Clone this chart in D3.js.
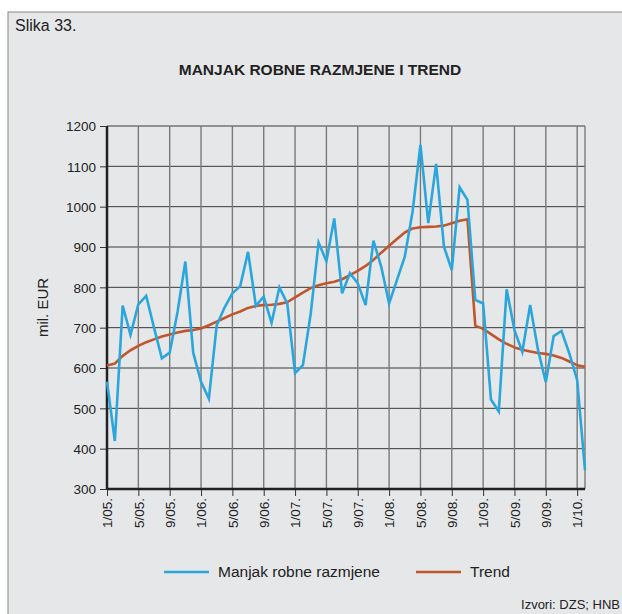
<!DOCTYPE html>
<meta charset="utf-8">
<style>
body { margin: 0; background: #fff; }
svg { display: block; font-family: "Liberation Sans", Arial, sans-serif; }
.grid line { stroke: #3a3a3a; stroke-width: 1; }
.vgrid line { stroke: #7a7a7a; stroke-width: 1.4; }
.axis text { fill: #222; font-size: 13.5px; font-family: "Liberation Sans", Arial, sans-serif; }
.axis path { display: none; }
.axis line { stroke: #333; }
</style>
<svg width="622" height="614"></svg>
<script src="https://d3js.org/d3.v7.min.js"></script>
<script>

// monthly, 1/05. to 2/10.
var deficit = [566, 419, 755, 682, 758, 779, 700, 624, 638, 739,
               864, 638, 566, 524, 706, 750, 785, 803, 888, 754,
               777, 712, 800, 760, 587, 607, 735, 911, 865, 971,
               785, 835, 810, 756, 916, 851, 760, 818, 876, 988,
               1153, 959, 1106, 901, 843, 1048, 1017, 769, 760, 522,
               492, 795, 694, 640, 756, 645, 565, 679, 692, 636,
               570, 347];

var trend = [606, 611, 630, 644, 655, 664, 671, 678, 683, 688,
             692, 694, 698, 706, 715, 724, 733, 740, 749, 754,
             756, 757, 759, 763, 775, 787, 798, 805, 810, 814,
             820, 830, 841, 853, 868, 886, 903, 920, 936, 946,
             949, 950, 951, 953, 959, 965, 969, 705, 697, 684,
             671, 660, 651, 645, 641, 637, 635, 631, 625, 616,
             607, 603];

var tickLabels = ["1/05.", "5/05.", "9/05.", "1/06.", "5/06.", "9/06.", "1/07.", "5/07.",
                  "9/07.", "1/08.", "5/08.", "9/08.", "1/09.", "5/09.", "9/09.", "1/10."];

var yTicks = [300, 400, 500, 600, 700, 800, 900, 1000, 1100, 1200];

var svg = d3.select("svg"),
    width = +svg.attr("width"),
    height = +svg.attr("height");

// background panel
svg.append("rect")
    .attr("x", 8).attr("y", 12)
    .attr("width", width).attr("height", height)
    .attr("fill", "#e6e7e9")
    .attr("stroke", "#8a8a8a")
    .attr("stroke-width", 1);

svg.append("text")
    .attr("x", 15).attr("y", 31)
    .attr("fill", "#222")
    .style("font-size", "16px")
    .text("Slika 33.");

svg.append("text")
    .attr("x", 320).attr("y", 75)
    .attr("text-anchor", "middle")
    .attr("fill", "#222")
    .style("font-size", "15.5px")
    .style("font-weight", "bold")
    .text("MANJAK ROBNE RAZMJENE I TREND");

var x = d3.scaleLinear()
    .domain([0, deficit.length - 1])
    .range([107, 585]);

var y = d3.scaleLinear()
    .domain([300, 1200])
    .range([489, 126]);

var xTicks = tickLabels.map(function(d, i) { return i * 4; });

// grid
svg.append("g")
    .attr("class", "grid")
  .selectAll("line")
  .data(yTicks)
  .enter().append("line")
    .attr("x1", x.range()[0]).attr("x2", x.range()[1])
    .attr("y1", function(d) { return y(d); })
    .attr("y2", function(d) { return y(d); });

svg.append("g")
    .attr("class", "vgrid")
  .selectAll("line")
  .data(xTicks.slice(1).concat([deficit.length - 1]))
  .enter().append("line")
    .attr("x1", function(d) { return x(d); })
    .attr("x2", function(d) { return x(d); })
    .attr("y1", y(1200)).attr("y2", y(300));

// axes
svg.append("g")
    .attr("class", "axis")
    .attr("transform", "translate(" + x.range()[0] + ",0)")
    .call(d3.axisLeft(y).tickValues(yTicks).tickSize(7).tickPadding(4)
      .tickFormat(d3.format("d")))
  .selectAll("text")
    .attr("dy", "0.35em");

var xAxis = svg.append("g")
    .attr("class", "axis")
    .attr("transform", "translate(0," + y(300) + ")")
    .call(d3.axisBottom(x).tickValues(xTicks).tickSize(7)
      .tickFormat(function(d, i) { return tickLabels[i]; }));

xAxis.selectAll("text")
    .attr("transform", "rotate(-90)")
    .attr("text-anchor", "end")
    .attr("x", -9)
    .attr("y", 0)
    .attr("dy", "0.35em");

svg.append("line")
    .attr("x1", x.range()[0]).attr("x2", x.range()[1])
    .attr("y1", y(300)).attr("y2", y(300))
    .attr("stroke", "#222").attr("stroke-width", 2.5);

svg.append("line")
    .attr("x1", x.range()[0]).attr("x2", x.range()[0])
    .attr("y1", y(1200)).attr("y2", y(300))
    .attr("stroke", "#222").attr("stroke-width", 2.5);

svg.append("text")
    .attr("transform", "translate(48," + y(750) + ") rotate(-90)")
    .attr("text-anchor", "middle")
    .attr("fill", "#222")
    .style("font-size", "15px")
    .text("mil. EUR");

// lines
var line = d3.line()
    .x(function(d, i) { return x(i); })
    .y(function(d) { return y(d); });

svg.append("path")
    .datum(trend)
    .attr("fill", "none")
    .attr("stroke", "#c0562b")
    .attr("stroke-width", 2.6)
    .attr("stroke-linejoin", "round")
    .attr("d", line);

svg.append("path")
    .datum(deficit)
    .attr("fill", "none")
    .attr("stroke", "#2ba6dc")
    .attr("stroke-width", 2.6)
    .attr("stroke-linejoin", "miter")
    .attr("d", line);

// legend
var legend = svg.append("g")
    .attr("transform", "translate(0,572)");

var items = [
  {label: "Manjak robne razmjene", color: "#2ba6dc", x: 164},
  {label: "Trend", color: "#c0562b", x: 416}
];

items.forEach(function(d) {
  legend.append("line")
      .attr("x1", d.x).attr("x2", d.x + 45)
      .attr("stroke", d.color).attr("stroke-width", 2.6);
  legend.append("text")
      .attr("x", d.x + 54).attr("dy", "0.35em")
      .attr("fill", "#222")
      .style("font-size", "15.5px")
      .text(d.label);
});

svg.append("text")
    .attr("x", 620).attr("y", 609)
    .attr("text-anchor", "end")
    .attr("fill", "#222")
    .style("font-size", "13px")
    .text("Izvori: DZS; HNB");

</script>
